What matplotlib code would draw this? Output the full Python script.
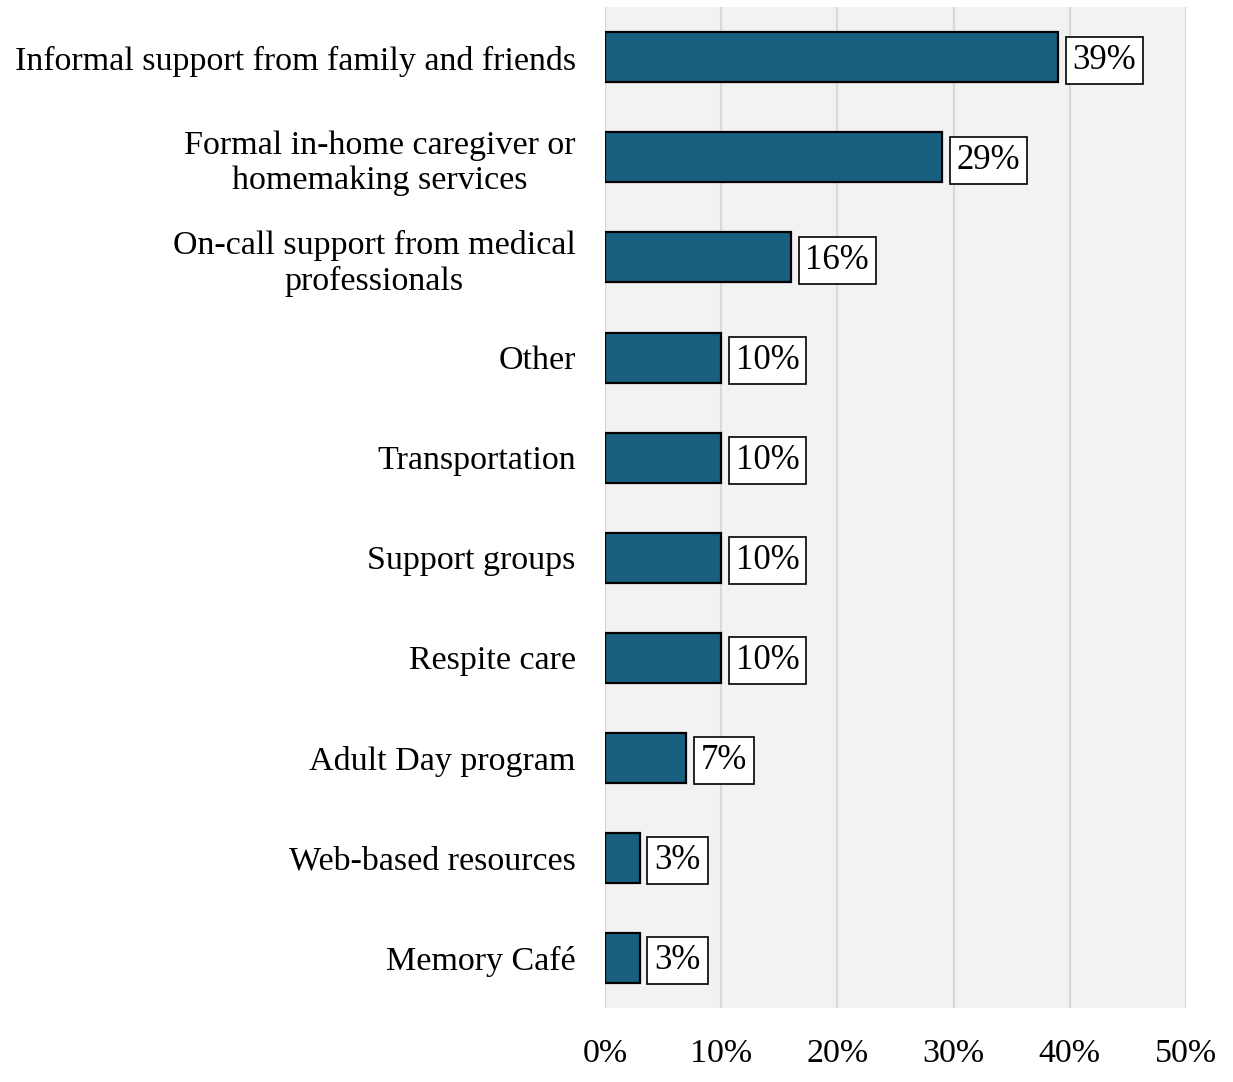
import matplotlib
matplotlib.use("Agg")
import matplotlib.pyplot as plt

categories = [
    "Informal support from family and friends",
    "Formal in-home caregiver or\nhomemaking services",
    "On-call support from medical\nprofessionals",
    "Other",
    "Transportation",
    "Support groups",
    "Respite care",
    "Adult Day program",
    "Web-based resources",
    "Memory Café",
]
values = [39, 29, 16, 10, 10, 10, 10, 7, 3, 3]
xticks = [0, 10, 20, 30, 40, 50]
xtick_labels = ["0%", "10%", "20%", "30%", "40%", "50%"]

FONT = "Liberation Serif"
FS = 24.5
BAR_COLOR = "#185f80"

fig = plt.figure(figsize=(12.33, 10.82), dpi=100)
ax = fig.add_axes([0.4907, 0.06885, 0.4712, 0.92422])
ax.set_facecolor("#f2f2f2")

ypos = list(range(len(categories)))
ax.barh(ypos, values, height=0.5, color=BAR_COLOR, edgecolor="black", linewidth=1.6, zorder=3)

for y, v in zip(ypos, values):
    ax.text(v + 1.25, y + 0.03, f"{v}%", ha="left", va="center", fontsize=FS + 0.5, family=FONT,
            color="black", zorder=4,
            bbox=dict(boxstyle="square,pad=0.2", facecolor="white", edgecolor="black", linewidth=1.2))

ax.set_xlim(0, 50)
ax.set_ylim(len(categories) - 0.5, -0.5)
ax.set_xticks(xticks)
ax.set_xticklabels(xtick_labels, fontsize=FS, family=FONT)
ax.set_yticks(ypos)
ax.set_yticklabels(categories, fontsize=FS, family=FONT, multialignment="center",
                   linespacing=1.2)
ax.tick_params(axis="x", length=0, pad=22)
ax.tick_params(axis="y", length=0, pad=21)
ax.grid(axis="x", color="#d9d9d9", linewidth=1.6, zorder=0)
ax.set_axisbelow(True)
for s in ax.spines.values():
    s.set_visible(False)

fig.savefig("out.png", dpi=100, facecolor="white")
